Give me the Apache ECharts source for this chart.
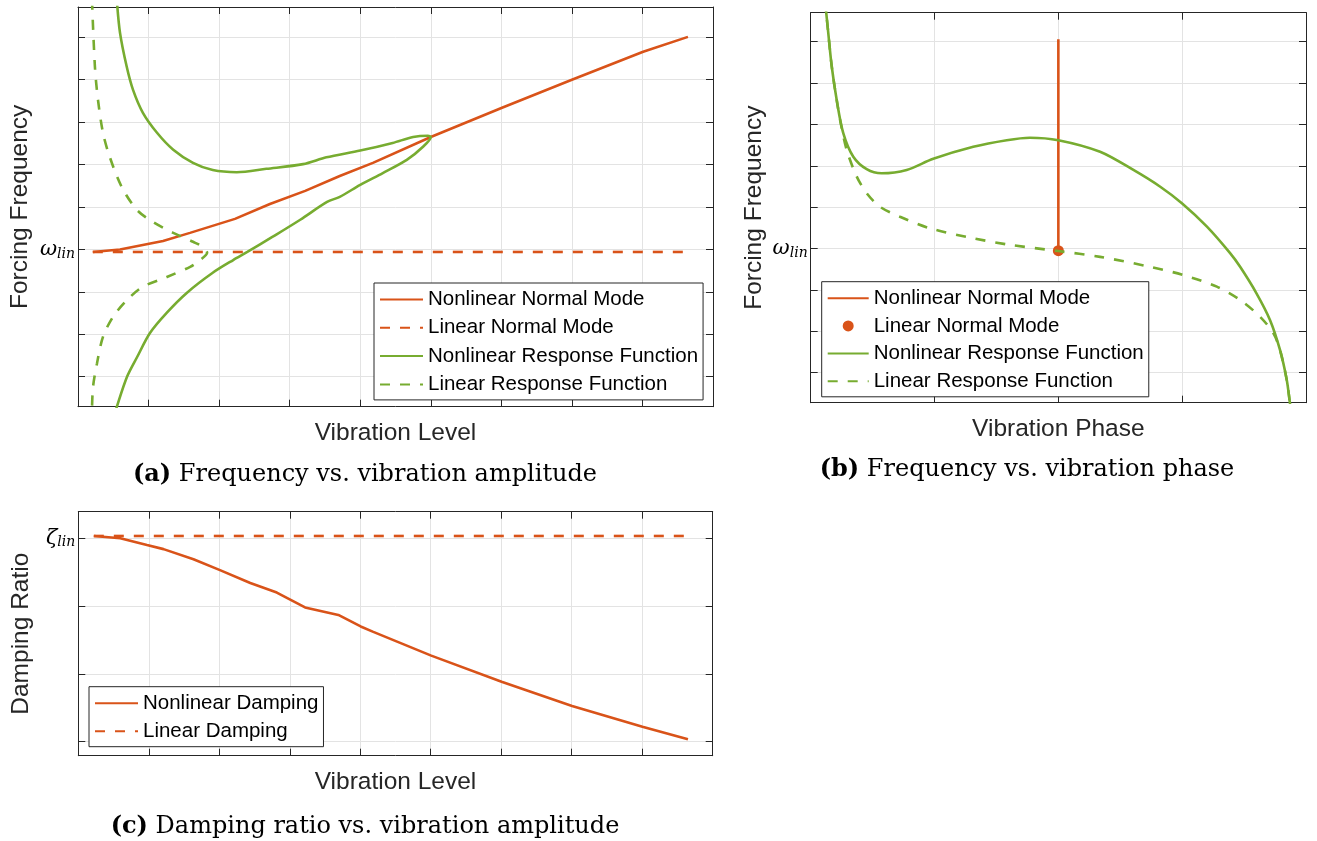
<!DOCTYPE html>
<html>
<head>
<meta charset="utf-8">
<script src="https://cdn.jsdelivr.net/npm/echarts@6/dist/echarts.min.js"></script>
<style>
html,body{margin:0;padding:0;background:#fff;}
#chart{width:1317px;height:841px;}
</style>
</head>
<body>
<div id="chart"></div>
<script>
// ---------- Panel (a): forcing frequency vs. vibration level ----------
const aNNM_level = [0.21, 0.595, 1.205, 1.587, 2.225, 2.72, 3.22, 3.71, 4.18, 5.00, 6.01, 7.00, 8.01, 8.645];
const aNNM_freq  = [2.94, 3.00, 3.20, 3.39, 3.72, 4.07, 4.38, 4.73, 5.04, 5.65, 6.34, 7.00, 7.66, 8.01];
const aLNM_level = [0.21, 8.645];
const aLNM_freq  = [2.94, 2.94];
const aNRF_level = [0.55, 0.595, 0.69, 0.78, 0.92, 1.12, 1.35, 1.63, 1.91, 2.25, 2.67, 3.19, 3.52, 4.00, 4.46, 4.75, 4.96, 5.00,
                    4.89, 4.66, 4.32, 4.00, 3.71, 3.53, 3.15, 2.76, 2.40, 2.20, 1.91, 1.545, 1.26, 1.02, 0.84, 0.695, 0.55, 0.52];
const aNRF_freq  = [8.88, 8.11, 7.31, 6.76, 6.22, 5.75, 5.35, 5.04, 4.87, 4.82, 4.90, 5.01, 5.17, 5.33, 5.51, 5.65, 5.68, 5.65,
                    5.42, 5.11, 4.80, 4.52, 4.24, 4.12, 3.70, 3.30, 2.94, 2.75, 2.45, 1.98, 1.51, 1.03, 0.47, 0.00, -0.71, -0.90];
const aLRF_level = [0.198, 0.24, 0.283, 0.354, 0.45, 0.62, 0.836, 1.06, 1.35, 1.63, 1.77, 1.83,
                    1.73, 1.59, 1.26, 0.92, 0.695, 0.496, 0.354, 0.27, 0.213, 0.198];
const aLRF_freq  = [8.88, 7.30, 6.53, 5.75, 5.18, 4.47, 3.93, 3.65, 3.39, 3.18, 3.06, 2.92,
                    2.75, 2.59, 2.35, 2.12, 1.81, 1.41, 0.94, 0.32, -0.24, -0.79];

// ---------- Panel (b): forcing frequency vs. vibration phase ----------
const bNNM_phase = [2, 2];
const bNNM_freq  = [2.95, 8.06];
const bLNM_phase = [2];
const bLNM_freq  = [2.95];
const bNRF_phase = [0.115, 0.142, 0.170, 0.21, 0.263, 0.344, 0.452, 0.573, 0.775, 0.99, 1.313, 1.583, 1.77, 2.0,
                    2.337, 2.606, 2.82, 3.0, 3.2, 3.387, 3.468, 3.60, 3.71, 3.79, 3.845, 3.87, 3.88];
const bNRF_freq  = [9.01, 8.21, 7.40, 6.59, 5.79, 5.22, 4.92, 4.82, 4.90, 5.17, 5.46, 5.62, 5.68, 5.62,
                    5.34, 4.90, 4.50, 4.09, 3.53, 2.89, 2.56, 1.92, 1.27, 0.55, -0.18, -0.725, -0.90];
const bLRF_phase = [0.115, 0.142, 0.170, 0.21, 0.245, 0.291, 0.372, 0.452, 0.56, 0.721, 0.963, 1.313, 1.61, 2.0,
                    2.337, 2.74, 3.01, 3.28, 3.468, 3.63, 3.737, 3.79, 3.845, 3.87, 3.88];
const bLRF_freq  = [9.01, 8.21, 7.40, 6.59, 5.99, 5.38, 4.74, 4.34, 4.01, 3.77, 3.49, 3.25, 3.09, 2.94,
                    2.80, 2.56, 2.36, 2.08, 1.76, 1.35, 0.95, 0.55, -0.18, -0.725, -0.90];

// ---------- Panel (c): damping ratio vs. vibration level ----------
const cND_level = [0.22, 0.595, 0.974, 1.209, 1.634, 2.01, 2.44, 2.816, 3.217, 3.689, 4.006, 4.185, 5.007, 6.005, 7.005, 8.003, 8.649];
const cND_ratio = [3.034, 3.00, 2.90, 2.84, 2.69, 2.53, 2.34, 2.20, 1.98, 1.87, 1.70, 1.62, 1.27, 0.885, 0.527, 0.221, 0.035];
const cLD_level = [0.22, 8.649];
const cLD_ratio = [3.034, 3.034];

// ---------- tick labels / texts ----------
const linTickValue = 3;
const captionA = ['(a)', ' Frequency vs. vibration amplitude'];
const captionB = ['(b)', ' Frequency vs. vibration phase'];
const captionC = ['(c)', ' Damping ratio vs. vibration amplitude'];

const ORANGE = '#D95319', GREEN = '#77AC30';
const AX = '#262626', GRIDC = '#e3e3e3';
const SANS = '"Liberation Sans", Arial, Helvetica, sans-serif';
const SERIF = '"DejaVu Serif", serif';

function zip(xs, ys) { return xs.map((x, i) => [x, ys[i]]); }

const symRich = {
  w: {fontFamily: SERIF, fontStyle: 'italic', fontSize: 21, color: '#000'},
  s: {fontFamily: SERIF, fontStyle: 'italic', fontSize: 14, color: '#000', padding: [9, 0, 0, 0]}
};

function xAxes(gi, max, name, nameGap) {
  const common = {
    type: 'value', gridIndex: gi, min: 0, max: max, interval: 1,
    axisLine: {show: true, onZero: false, lineStyle: {color: AX, width: 1}},
    axisTick: {show: true, inside: true, length: 7, lineStyle: {color: AX, width: 1}},
    axisLabel: {show: false}
  };
  return [
    Object.assign({}, common, {
      position: 'bottom',
      splitLine: {show: true, lineStyle: {color: GRIDC, width: 1}},
      name: name, nameLocation: 'middle', nameGap: nameGap,
      nameTextStyle: {fontFamily: SANS, fontSize: 24.5, color: AX}
    }),
    Object.assign({}, common, {position: 'top', splitLine: {show: false}})
  ];
}

function yAxes(gi, min, max, name, nameGap, sym) {
  const common = {
    type: 'value', gridIndex: gi, min: min, max: max, minInterval: 1, maxInterval: 1,
    axisLine: {show: true, onZero: false, lineStyle: {color: AX, width: 1}},
    axisTick: {show: true, inside: true, length: 7, lineStyle: {color: AX, width: 1}}
  };
  return [
    Object.assign({}, common, {
      position: 'left',
      splitLine: {show: true, lineStyle: {color: GRIDC, width: 1}},
      axisLabel: {
        show: true, margin: 3, showMinLabel: false, showMaxLabel: false,
        formatter: v => Math.abs(v - linTickValue) < 1e-6 ? '{w|' + sym + '}{s|lin}' : '',
        rich: symRich
      },
      name: name, nameLocation: 'middle', nameGap: nameGap,
      nameTextStyle: {fontFamily: SANS, fontSize: 24.5, color: AX}
    }),
    Object.assign({}, common, {position: 'right', splitLine: {show: false}, axisLabel: {show: false}})
  ];
}

function lineSeries(name, xi, data, color, dashed, smooth) {
  return {
    name: name, type: 'line', xAxisIndex: xi, yAxisIndex: xi, data: data,
    symbol: 'none', showSymbol: false, smooth: smooth || false, clip: true,
    lineStyle: {color: color, width: 2.6, type: dashed ? [10, 10] : 'solid'},
    itemStyle: {color: color},
    emphasis: {disabled: true}
  };
}

function legend(left, top, items, itemWidth, itemHeight, itemGap) {
  return {
    show: true, orient: 'vertical', left: left, top: top,
    data: items, selectedMode: false,
    itemWidth: itemWidth, itemHeight: itemHeight, itemGap: itemGap,
    padding: [6, 5, 5, 5],
    backgroundColor: '#fff', borderColor: AX, borderWidth: 1,
    itemStyle: {opacity: 0},
    formatter: n => n.replace(/^\[[abc]\] /, ''),
    textStyle: {fontFamily: SANS, fontSize: 20.5, color: '#000', lineHeight: 20}
  };
}

function caption(x, y, parts) {
  return {
    type: 'text', x: x, y: y, silent: true,
    style: {
      text: '{b|' + parts[0] + '}' + parts[1],
      fontFamily: SERIF, fontSize: 24, fill: '#000',
      align: 'center', verticalAlign: 'middle', textAlign: 'center', textVerticalAlign: 'middle',
      rich: {b: {fontFamily: SERIF, fontSize: 24, fontWeight: 'bold', fill: '#000', color: '#000'}}
    }
  };
}

const xs = [].concat(
  xAxes(0, 9, 'Vibration Level', 14),
  xAxes(1, 4, 'Vibration Phase', 14),
  xAxes(2, 9, 'Vibration Level', 14)
);
const ys = [].concat(
  yAxes(0, -0.707, 8.714, 'Forcing Frequency', 45, 'ω'),
  yAxes(1, -0.725, 8.701, 'Forcing Frequency', 44, 'ω'),
  yAxes(2, -0.206, 3.392, 'Damping Ratio', 45, 'ζ')
);
// every series uses the bottom/left axes of its grid: indices 0, 2, 4
const series = [
  lineSeries('[a] Nonlinear Normal Mode', 0, zip(aNNM_level, aNNM_freq), ORANGE, false),
  lineSeries('[a] Linear Normal Mode', 0, zip(aLNM_level, aLNM_freq), ORANGE, true),
  lineSeries('[a] Nonlinear Response Function', 0, zip(aNRF_level, aNRF_freq), GREEN, false, 0.3),
  lineSeries('[a] Linear Response Function', 0, zip(aLRF_level, aLRF_freq), GREEN, true, 0.3),

  lineSeries('[b] Nonlinear Normal Mode', 2, zip(bNNM_phase, bNNM_freq), ORANGE, false),
  {
    name: '[b] Linear Normal Mode', type: 'scatter', xAxisIndex: 2, yAxisIndex: 2,
    data: zip(bLNM_phase, bLNM_freq), symbol: 'circle', symbolSize: 11,
    itemStyle: {color: ORANGE, opacity: 1}, emphasis: {disabled: true}
  },
  lineSeries('[b] Nonlinear Response Function', 2, zip(bNRF_phase, bNRF_freq), GREEN, false, 0.3),
  lineSeries('[b] Linear Response Function', 2, zip(bLRF_phase, bLRF_freq), GREEN, true, 0.3),

  lineSeries('[c] Nonlinear Damping', 4, zip(cND_level, cND_ratio), ORANGE, false),
  lineSeries('[c] Linear Damping', 4, zip(cLD_level, cLD_ratio), ORANGE, true)
];

const option = {
  animation: false,
  backgroundColor: '#fff',
  grid: [
    {left: 78, top: 7, width: 635, height: 399.7, containLabel: false},
    {left: 810.7, top: 12.7, width: 495.3, height: 390, containLabel: false},
    {left: 78.3, top: 511.7, width: 634.4, height: 244, containLabel: false}
  ],
  xAxis: xs,
  yAxis: ys,
  legend: [
    legend(374, 283, ['[a] Nonlinear Normal Mode', '[a] Linear Normal Mode', '[a] Nonlinear Response Function', '[a] Linear Response Function'], 43, 14, 7.3),
    legend(821.7, 281.7, ['[b] Nonlinear Normal Mode',
                          {name: '[b] Linear Normal Mode', itemStyle: {opacity: 1, color: ORANGE}},
                          '[b] Nonlinear Response Function', '[b] Linear Response Function'], 41, 11, 6.7),
    legend(89, 686.7, ['[c] Nonlinear Damping', '[c] Linear Damping'], 43, 14, 7)
  ],
  series: series,
  graphic: [
    caption(365, 475, captionA),
    caption(1027, 470, captionB),
    caption(365, 827, captionC)
  ]
};

const chart = echarts.init(document.getElementById('chart'), null, {renderer: 'canvas'});
chart.setOption(option);
</script>
</body>
</html>
